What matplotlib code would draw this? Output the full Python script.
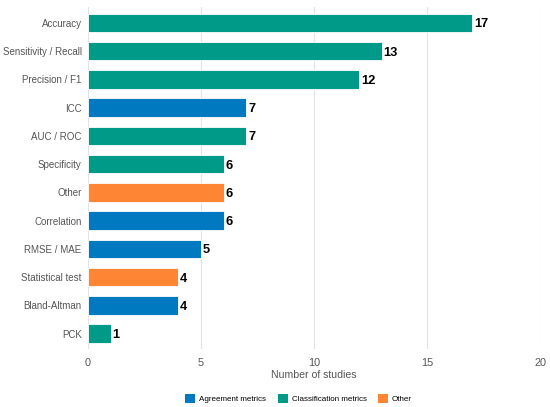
import matplotlib
matplotlib.use("Agg")
from matplotlib import pyplot as plt
from matplotlib.patches import Patch

plt.rcParams['font.family'] = ['Liberation Sans', 'DejaVu Sans']

metrics = ["Accuracy", "Sensitivity / Recall", "Precision / F1", "ICC", "AUC / ROC",
           "Specificity", "Other", "Correlation", "RMSE / MAE", "Statistical test",
           "Bland-Altman", "PCK"]
counts = [17, 13, 12, 7, 7, 6, 6, 6, 5, 4, 4, 1]
groups = ["Classification metrics", "Classification metrics", "Classification metrics",
          "Agreement metrics", "Classification metrics", "Classification metrics",
          "Other", "Agreement metrics", "Agreement metrics", "Other",
          "Agreement metrics", "Classification metrics"]
group_order = ["Agreement metrics", "Classification metrics", "Other"]
colors = {"Agreement metrics": "#0079C1",
          "Classification metrics": "#009B88",
          "Other": "#FE8533"}

fig = plt.figure(figsize=(5.5, 4.07), dpi=100)
ax = fig.add_axes([0.16, 0.142, 0.822, 0.84])

ypos = list(range(len(metrics)))
ax.barh(ypos, counts, height=0.66, color=[colors[g] for g in groups],
        edgecolor="white", linewidth=0.6, zorder=3)
for y, c in zip(ypos, counts):
    ax.text(c + 0.08, y, str(c), va="center_baseline", ha="left", fontsize=9.3,
            fontweight="bold", color="black")

ax.set_yticks(ypos)
ax.set_yticklabels(metrics)
ax.set_ylim(len(metrics) - 0.45, -0.55)
ax.set_xlim(0, 20)
ax.set_xticks([0, 5, 10, 15, 20])
ax.tick_params(axis="y", length=0, labelsize=7.0, colors="#555555", pad=4.5)
ax.tick_params(axis="x", length=0, labelsize=7.8, colors="#555555", pad=6)
ax.grid(axis="x", color="#e3e3e3", linewidth=0.8, zorder=0)
for s in ax.spines.values():
    s.set_visible(False)
ax.set_xlabel("Number of studies", fontsize=7.6, color="#555555", labelpad=2)

handles = [Patch(facecolor=colors[g], edgecolor="none", label=g) for g in group_order]
fig.legend(handles=handles, loc="lower center", bbox_to_anchor=(0.543, -0.008), ncol=3,
           frameon=False, fontsize=5.8, handlelength=1.25, handleheight=1.25,
           columnspacing=1.4, handletextpad=0.5)

fig.savefig("out.png", dpi=100)
